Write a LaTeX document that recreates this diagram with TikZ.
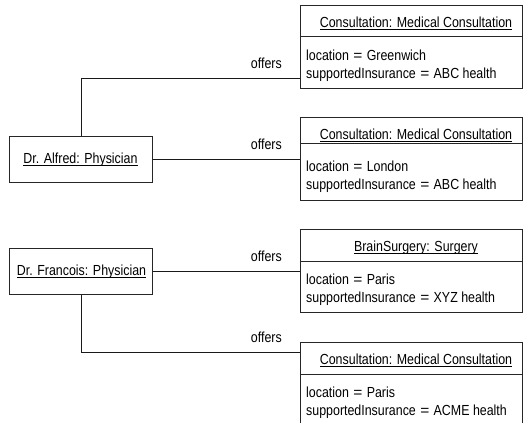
\documentclass[tikz,border=0pt]{standalone}
\usepackage{fontspec}
\usepackage{graphicx}
\setmainfont{Liberation Sans}[FakeStretch=0.85]
\newcommand\ultext[1]{\setbox0\hbox{#1}\rlap{\rule[-2.7pt]{\wd0}{0.8pt}}\box0}
\newcommand\eqsign{\hspace{0.3em}\scalebox{1.25}[1]{=}\hspace{0.3em}}
\begin{document}
\begin{tikzpicture}[x=1pt,y=-1pt,
  every node/.style={font=\fontsize{14.6}{18.3}\selectfont, inner sep=0pt, text=black},
  objbox/.style={draw=black!85, line width=1pt, rectangle, anchor=north west, inner sep=0pt},
  divider/.style={draw=black!85, line width=1pt},
  link/.style={draw=black!90, line width=1pt},
  lbl/.style={anchor=base east},
  head/.style={anchor=base},
  attr/.style={anchor=base west}]
\useasboundingbox (0,0) rectangle (523,423);
\clip (0,0) rectangle (523,423);

% physician objects
\node[objbox, minimum width=142.5, minimum height=46] (alfred) at (9.3,135.7) {};
\node[head] (alfredt) at (80.5,163.3) {\ultext{Dr. Alfred: Physician}};
\node[objbox, minimum width=142.5, minimum height=46] (francois) at (9.3,248) {};
\node[head] (francoist) at (81.5,275.3) {\ultext{Dr. Francois: Physician}};

% offered services
\node[objbox, minimum width=221.7, minimum height=83.3] (c1) at (300,5) {};
\draw[divider] (300,36.7) -- (521.7,36.7);
\node[head] (c1h) at (416,27.3) {\ultext{Consultation: Medical Consultation}};
\node[attr] (c1a) at (306,60) {location\eqsign Greenwich};
\node[attr] (c1b) at (306,78.3) {supportedInsurance\eqsign ABC health};

\node[objbox, minimum width=221.7, minimum height=83] (c2) at (300,117) {};
\draw[divider] (300,143) -- (521.7,143);
\node[head] (c2h) at (416,139) {\ultext{Consultation: Medical Consultation}};
\node[attr] (c2a) at (306,171.5) {location\eqsign London};
\node[attr] (c2b) at (306,189.8) {supportedInsurance\eqsign ABC health};

\node[objbox, minimum width=221.7, minimum height=83] (c3) at (300,229.3) {};
\draw[divider] (300,261.3) -- (521.7,261.3);
\node[head] (c3h) at (416,251.5) {\ultext{BrainSurgery: Surgery}};
\node[attr] (c3a) at (306,284) {location\eqsign Paris};
\node[attr] (c3b) at (306,302.3) {supportedInsurance\eqsign XYZ health};

\node[objbox, minimum width=221.7, minimum height=90] (c4) at (300,342) {};
\draw[divider] (300,374) -- (521.7,374);
\node[head] (c4h) at (416,364.5) {\ultext{Consultation: Medical Consultation}};
\node[attr] (c4a) at (306,397) {location\eqsign Paris};
\node[attr] (c4b) at (306,415.3) {supportedInsurance\eqsign ACME health};

% link end points on the service boxes
\coordinate (c1in) at (300,78.3);
\coordinate (c4in) at (300,352);

% links
\draw[link] (alfred.north) |- (c1in);
\draw[link] (alfred.east) -- (alfred.east -| c2.west);
\draw[link] (francois.east) -- (francois.east -| c3.west);
\draw[link] (francois.south) |- (c4in);

% association labels
\node[lbl] (o1) at (282,68.3) {offers};
\node[lbl] (o2) at (282,149) {offers};
\node[lbl] (o3) at (282,261) {offers};
\node[lbl] (o4) at (282,342) {offers};
\end{tikzpicture}
\end{document}
